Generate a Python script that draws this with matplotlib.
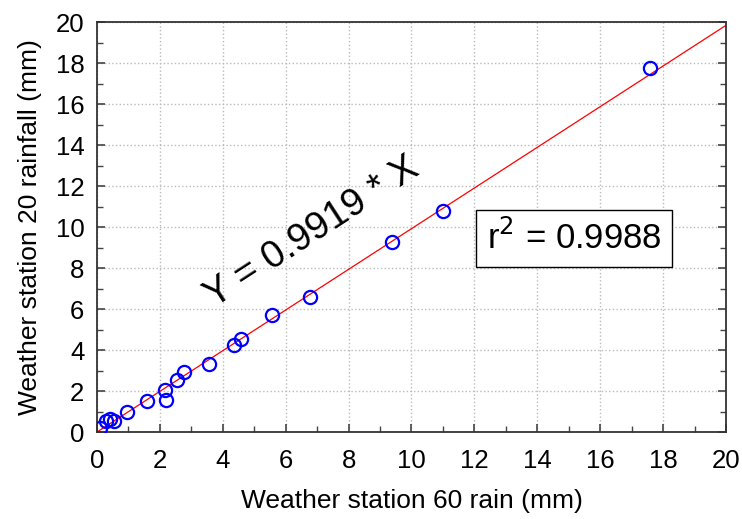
import numpy as np
import matplotlib
matplotlib.use("Agg")
import matplotlib.pyplot as plt
from matplotlib.ticker import MultipleLocator

plt.rcParams['font.family'] = ['Liberation Sans', 'DejaVu Sans']

# paired daily rainfall readings (mm)
station60 = [0.10, 0.30, 0.40, 0.55, 0.96, 1.58, 2.18, 2.17, 2.55, 2.78, 3.56,
             4.36, 4.58, 5.55, 6.77, 9.38, 11.0, 17.6]
station20 = [0.22, 0.55, 0.65, 0.52, 0.98, 1.53, 1.56, 2.03, 2.52, 2.93, 3.33,
             4.26, 4.52, 5.71, 6.59, 9.27, 10.8, 17.75]
slope = 0.9919
r2 = 0.9988

fig = plt.figure(figsize=(7.42, 5.19), dpi=100)
ax = fig.add_axes([0.1307, 0.1676, 0.8477, 0.79])

fit_x = np.array([0, 20])
ax.plot(fit_x, slope * fit_x, color='red', linewidth=0.9, zorder=2)
ax.plot(station60, station20, linestyle='none', marker='o', markersize=9.5,
        markerfacecolor='none', markeredgecolor='blue', markeredgewidth=1.6, zorder=3)

ax.set_xlim(0, 20)
ax.set_ylim(0, 20)
ax.xaxis.set_major_locator(MultipleLocator(2))
ax.yaxis.set_major_locator(MultipleLocator(2))
ax.xaxis.set_minor_locator(MultipleLocator(1))
ax.yaxis.set_minor_locator(MultipleLocator(1))
ax.tick_params(which='both', direction='in', top=False, right=True,
               labelsize=18.5, color='#444444')
ax.tick_params(which='major', length=6, width=1.2)
ax.tick_params(which='minor', length=4, width=1)
ax.tick_params(axis='x', pad=12)
ax.tick_params(axis='y', pad=9)
ax.grid(True, which='major', linestyle=':', color='#bbbbbb', linewidth=1)
for s in ax.spines.values():
    s.set_color('#333333')
    s.set_linewidth(1.3)

ax.set_xlabel('Weather station 60 rain (mm)', fontsize=19, labelpad=12)
ax.set_ylabel('Weather station 20 rainfall (mm)', fontsize=19, labelpad=10)

ax.text(6.84, 9.76, f'Y = {slope} * X', fontsize=27.5, rotation=33,
        rotation_mode='anchor', ha='center', va='center')
ax.text(15.17, 9.46, f'r$^2$ = {r2}', fontsize=25, ha='center', va='center',
        bbox=dict(boxstyle='square,pad=0.3', facecolor='white',
                  edgecolor='black', linewidth=1))

fig.savefig('out.png', dpi=100)
